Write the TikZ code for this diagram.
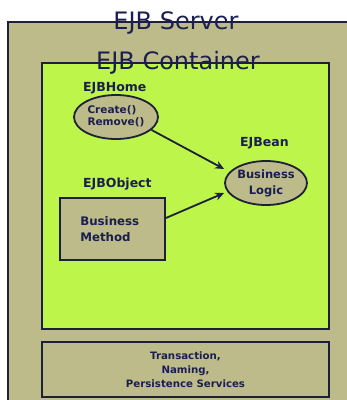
\documentclass[tikz,border=0pt]{standalone}
\usepackage{fontspec}
\setmainfont{DejaVu Sans}
\usetikzlibrary{
  arrows.meta,
  positioning,
  shapes.geometric
}
\definecolor{ejbkhaki}{RGB}{190,187,138}
\definecolor{ejbgreen}{RGB}{190,245,75}
\definecolor{ejbnavy}{RGB}{26,30,80}
\definecolor{ejbline}{RGB}{28,32,56}

\begin{document}
\begin{tikzpicture}[
  x=1pt, y=-1pt,
  box/.style={draw=ejbline, line width=2pt, anchor=north west, inner sep=0pt},
  title/.style={font=\fontsize{24}{24}\selectfont, text=ejbnavy, inner sep=0pt},
  tag/.style={font=\bfseries\fontsize{12.5}{14}\selectfont, text=ejbnavy, anchor=west, inner sep=0pt},
  part/.style={draw=ejbline, line width=1.8pt, fill=ejbkhaki, text=ejbnavy, inner sep=0pt},
  arrow/.style={-{Stealth[length=9pt, width=8pt]}, line width=1.8pt, draw=ejbline}
]
  \useasboundingbox (0,0) rectangle (347,400);

  % Server frame, cut by the page edge
  \node[box, fill=ejbkhaki, minimum width=350pt, minimum height=390pt] (server) at (7,21) {};

  % Container and services
  \node[box, fill=ejbgreen, minimum width=287pt, minimum height=266pt] (container) at (41,62) {};
  \node[box, fill=ejbkhaki, minimum width=287pt, minimum height=55pt,
    font=\bfseries\fontsize{10.2}{14}\selectfont, text=ejbnavy, align=center] (services) at (41,341)
    {Transaction,\\ Naming,\\ Persistence Services};

  % Titles sit on the frame lines
  \node[title] (servertitle) at (176,23) {EJB Server};
  \node[title] (containertitle) at (178,63) {EJB Container};

  % Home interface
  \node[part, ellipse, minimum width=84pt, minimum height=44pt,
    font=\bfseries\fontsize{10.5}{12.5}\selectfont] (home) at (116,117)
    {\raisebox{3pt}{\begin{tabular}{@{}l@{}}Create()\\[-1pt] Remove()\end{tabular}}};
  \node[tag] (hometag) at (83,88) {EJBHome};

  % Bean
  \node[part, ellipse, minimum width=82pt, minimum height=44pt,
    font=\bfseries\fontsize{11.5}{16}\selectfont, align=center] (bean) at (266,183)
    {Business\\ Logic};
  \node[tag] (beantag) at (240,143) {EJBean};

  % Remote object
  \node[part, rectangle, minimum width=105pt, minimum height=62pt,
    font=\bfseries\fontsize{11.8}{16}\selectfont, align=left] (object) at (112.5,229)
    {Business\\ Method\hspace*{14pt}};
  \node[tag] (objecttag) at (83,184) {EJBObject};

  % Calls into the bean
  \draw[arrow] (home.-20) -- (bean.west |- 0,169);
  \draw[arrow] (object.east) ++(0,-11) -- (bean.west |- 0,193);

\end{tikzpicture}
\end{document}
